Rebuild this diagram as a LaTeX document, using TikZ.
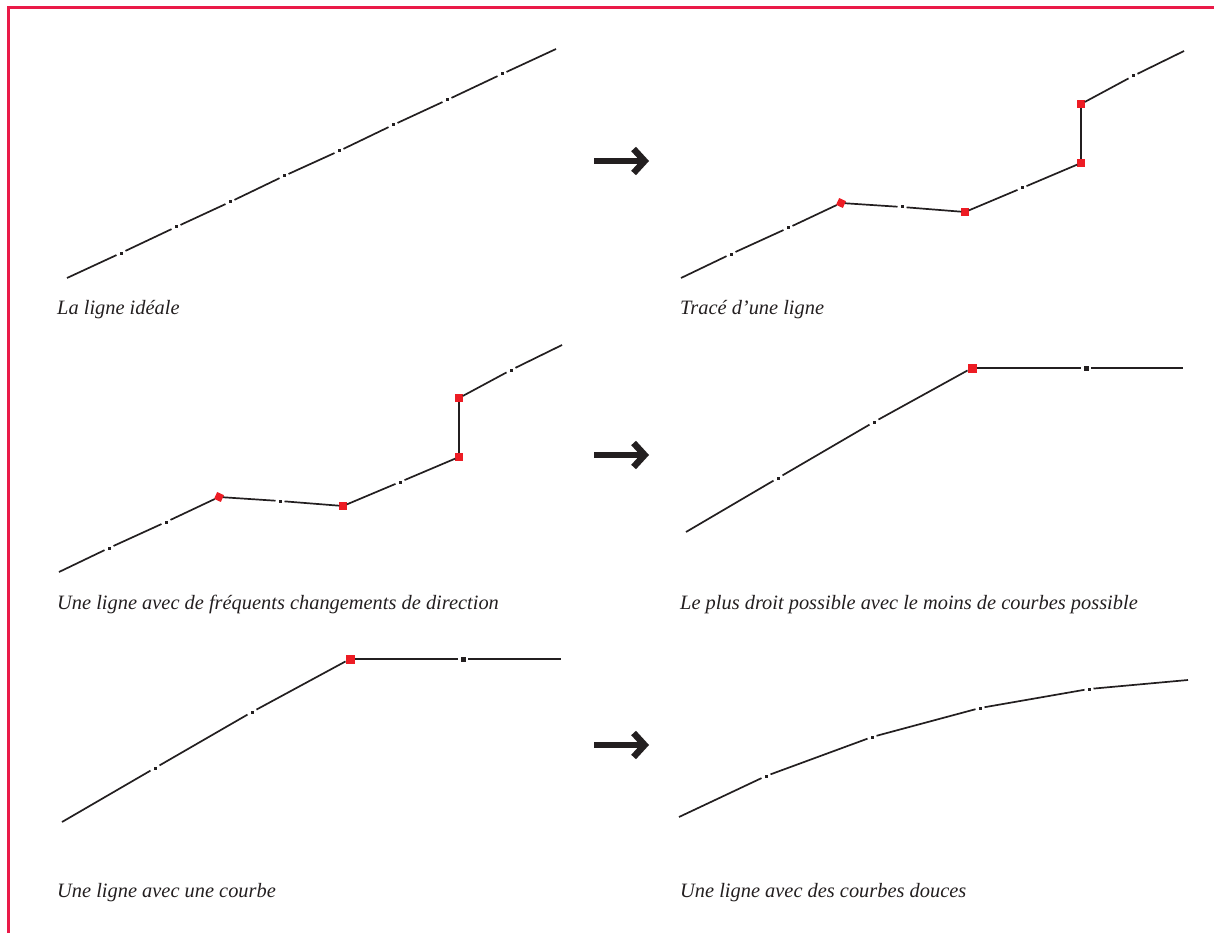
\documentclass[tikz,border=0pt]{standalone}
\usepackage{fontspec}
\setmainfont{Liberation Serif}
\usetikzlibrary{arrows.meta}
\usepackage{xcolor}

\definecolor{ink}{RGB}{35,31,32}
\definecolor{pointrouge}{RGB}{237,28,36}
\definecolor{cadre}{RGB}{234,26,72}

\tikzset{
	trait/.style={draw=ink, line width=1.7pt},
	traitfort/.style={draw=ink, line width=2.4pt},
	tick/.style={rectangle, fill=ink, minimum size=3pt, inner sep=0pt, outer sep=3pt},
	repere/.style={rectangle, fill=ink, minimum size=5pt, inner sep=0pt, outer sep=2.5pt},
	sommet/.style={rectangle, fill=pointrouge, minimum size=7.5pt, inner sep=0pt, outer sep=0pt},
	grossommet/.style={rectangle, fill=pointrouge, minimum size=9pt, inner sep=0pt, outer sep=0pt},
	legende/.style={anchor=base west, inner sep=0pt, text=ink, font=\itshape\fontsize{20.4}{24}\selectfont},
	fleche/.style={draw=ink, line width=6.5pt, -{Straight Barb[length=11pt, width=24pt]}}
}

\begin{document}
\begin{tikzpicture}[x=1pt, y=-1pt]
	\useasboundingbox (0,0) rectangle (1214,933);
	\fill[white] (0,0) rectangle (1214,933);
	\draw[cadre, line width=2.5pt] (8.5,933) -- (8.5,7.5) -- (1214,7.5);

	% la ligne ideale
	\coordinate (i0) at (67,278);
	\node[tick] (i1) at (121,253) {};
	\node[tick] (i2) at (176,227) {};
	\node[tick] (i3) at (230,202) {};
	\node[tick] (i4) at (284,176) {};
	\node[tick] (i5) at (339,151) {};
	\node[tick] (i6) at (393,125) {};
	\node[tick] (i7) at (447,100) {};
	\node[tick] (i8) at (502,74) {};
	\coordinate (i9) at (556,49);
	\draw[trait] (i0) -- (i1) -- (i2) -- (i3) -- (i4) -- (i5) -- (i6) -- (i7) -- (i8) -- (i9);
	\node[legende] (li) at (57,314) {La ligne idéale};

	% trace d'une ligne
	\coordinate (t0) at (681,278);
	\node[tick] (t1) at (731,254) {};
	\node[tick] (t2) at (788,228) {};
	\node[sommet, rotate=-25] (t3) at (841,203) {};
	\node[tick] (t4) at (902,207) {};
	\node[sommet] (t5) at (965,212) {};
	\node[tick] (t6) at (1022,188) {};
	\node[sommet] (t7) at (1081,163) {};
	\node[sommet] (t8) at (1081,104) {};
	\node[tick] (t9) at (1133,76) {};
	\coordinate (t10) at (1184,51);
	\draw[trait] (t0) -- (t1) -- (t2) -- (t3) -- (t4) -- (t5) -- (t6) -- (t7);
	\draw[traitfort] (t7) -- (t8);
	\draw[trait] (t8) -- (t9) -- (t10);
	\node[legende] (lt) at (680,314) {Tracé d’une ligne};

	% changements de direction
	\coordinate (f0) at (59,572);
	\node[tick] (f1) at (109,548) {};
	\node[tick] (f2) at (166,522) {};
	\node[sommet, rotate=-25] (f3) at (219,497) {};
	\node[tick] (f4) at (280,501) {};
	\node[sommet] (f5) at (343,506) {};
	\node[tick] (f6) at (400,482) {};
	\node[sommet] (f7) at (459,457) {};
	\node[sommet] (f8) at (459,398) {};
	\node[tick] (f9) at (511,370) {};
	\coordinate (f10) at (562,345);
	\draw[trait] (f0) -- (f1) -- (f2) -- (f3) -- (f4) -- (f5) -- (f6) -- (f7);
	\draw[traitfort] (f7) -- (f8);
	\draw[trait] (f8) -- (f9) -- (f10);
	\node[legende] (lf) at (57,609) {Une ligne avec de fréquents changements de direction};

	% le plus droit possible
	\coordinate (d0) at (686,532);
	\node[tick] (d1) at (778,478) {};
	\node[tick] (d2) at (874,422) {};
	\node[grossommet] (d3) at (972,368) {};
	\node[repere] (d4) at (1086,368) {};
	\coordinate (d5) at (1183,368);
	\draw[trait] (d0) -- (d1) -- (d2) -- (d3);
	\draw[traitfort] (d3) -- (d4) -- (d5);
	\node[legende] (ld) at (680,609) {Le plus droit possible avec le moins de courbes possible};

	% une courbe
	\coordinate (c0) at (62,822);
	\node[tick] (c1) at (155,768) {};
	\node[tick] (c2) at (252,712) {};
	\node[grossommet] (c3) at (350,659) {};
	\node[repere] (c4) at (463,659) {};
	\coordinate (c5) at (561,659);
	\draw[trait] (c0) -- (c1) -- (c2) -- (c3);
	\draw[traitfort] (c3) -- (c4) -- (c5);
	\node[legende] (lc) at (57,897) {Une ligne avec une courbe};

	% courbes douces
	\coordinate (s0) at (679,817);
	\node[tick] (s1) at (766,776) {};
	\node[tick] (s2) at (872,737) {};
	\node[tick] (s3) at (980,708) {};
	\node[tick] (s4) at (1089,689) {};
	\coordinate (s5) at (1188,680);
	\draw[trait] (s0) -- (s1) -- (s2) -- (s3) -- (s4) -- (s5);
	\node[legende] (ls) at (680,897) {Une ligne avec des courbes douces};

	% fleches
	\coordinate (g1a) at (594,161);
	\coordinate (g1b) at (649,161);
	\coordinate (g2a) at (594,455);
	\coordinate (g2b) at (649,455);
	\coordinate (g3a) at (594,745);
	\coordinate (g3b) at (649,745);
	\draw[fleche] (g1a) -- (g1b);
	\draw[fleche] (g2a) -- (g2b);
	\draw[fleche] (g3a) -- (g3b);
\end{tikzpicture}
\end{document}
